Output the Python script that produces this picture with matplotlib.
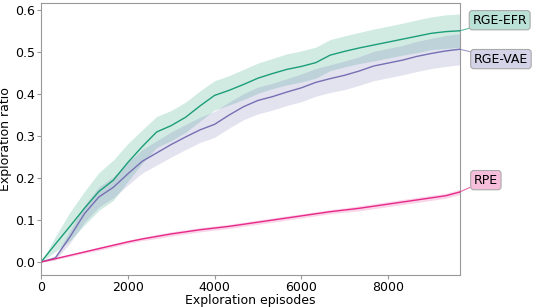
import matplotlib
matplotlib.use('Agg')

import matplotlib.pyplot as plt
import numpy as np
from matplotlib.colors import to_rgba

# exploration episodes
episodes = [0, 333, 667, 1000, 1333, 1667, 2000, 2333, 2667, 3000,
            3333, 3667, 4000, 4333, 4667, 5000, 5333, 5667, 6000, 6333,
            6667, 7000, 7333, 7667, 8000, 8333, 8667, 9000, 9333, 9657]

# RGE-EFR
efr_mean = [0, 0.043, 0.085, 0.128, 0.168, 0.195, 0.237, 0.275, 0.310, 0.325,
            0.345, 0.372, 0.397, 0.409, 0.423, 0.438, 0.449, 0.459, 0.466, 0.475,
            0.493, 0.502, 0.510, 0.517, 0.524, 0.531, 0.538, 0.545, 0.549, 0.551]
efr_sd = [0, 0.018, 0.034, 0.040, 0.045, 0.048, 0.045, 0.040, 0.037, 0.036,
          0.036, 0.036, 0.035, 0.035, 0.036, 0.036, 0.036, 0.037, 0.037, 0.037,
          0.037, 0.037, 0.037, 0.038, 0.038, 0.038, 0.039, 0.039, 0.040, 0.040]

# RGE-VAE
vae_mean = [0, 0.010, 0.060, 0.115, 0.155, 0.178, 0.210, 0.240, 0.260, 0.280,
            0.298, 0.315, 0.328, 0.350, 0.370, 0.385, 0.394, 0.405, 0.415, 0.428,
            0.437, 0.445, 0.455, 0.467, 0.474, 0.481, 0.490, 0.497, 0.503, 0.507]
vae_sd = [0, 0.005, 0.015, 0.020, 0.024, 0.025, 0.027, 0.028, 0.029, 0.030,
          0.030, 0.030, 0.031, 0.031, 0.031, 0.032, 0.032, 0.032, 0.033, 0.033,
          0.033, 0.034, 0.034, 0.035, 0.035, 0.035, 0.036, 0.036, 0.037, 0.037]

# RPE
rpe_mean = [0, 0.008, 0.016, 0.024, 0.032, 0.040, 0.048, 0.055, 0.061, 0.067,
            0.072, 0.077, 0.081, 0.085, 0.090, 0.095, 0.100, 0.105, 0.110, 0.115,
            0.120, 0.124, 0.128, 0.133, 0.138, 0.143, 0.148, 0.153, 0.158, 0.167]
rpe_sd = [0, 0.002, 0.003, 0.003, 0.004, 0.004, 0.004, 0.004, 0.005, 0.005,
          0.005, 0.005, 0.005, 0.005, 0.005, 0.005, 0.005, 0.005, 0.005, 0.005,
          0.005, 0.005, 0.006, 0.006, 0.006, 0.006, 0.006, 0.006, 0.006, 0.006]

names = ['RGE-EFR', 'RGE-VAE', 'RPE']
colors = ['#1b9e77', '#7570b3', '#e7298a']
label_pos = [(1.095, 0.937), (1.098, 0.794), (1.062, 0.349)]

fig = plt.figure(figsize=(5.36, 3.07), dpi=100)
ax = fig.add_axes([0.0765, 0.104, 0.7815, 0.886])

x = np.array(episodes)
series = [(efr_mean, efr_sd), (vae_mean, vae_sd), (rpe_mean, rpe_sd)]
for (m, s), name, c, pos in zip(series, names, colors, label_pos):
    m = np.array(m)
    s = np.array(s)
    ax.fill_between(x, m - s, m + s, color=c, alpha=0.2, linewidth=0)
    ax.plot(x, m, color=c, linewidth=1.0)
    ax.annotate(name, xy=(x[-1], m[-1]), xytext=pos, textcoords='axes fraction',
                ha='center', va='center', fontsize=9, annotation_clip=False,
                bbox=dict(boxstyle='round,pad=0.25', fc=to_rgba(c, 0.3), ec='#aaaaaa', lw=0.8),
                arrowprops=dict(arrowstyle='-', color=c, lw=0.8, alpha=0.7,
                                shrinkA=0, shrinkB=0))

ax.set_xlim(0, 9657)
ax.set_ylim(-0.031, 0.617)
ax.set_xticks([0, 2000, 4000, 6000, 8000])
ax.set_yticks([0.0, 0.1, 0.2, 0.3, 0.4, 0.5, 0.6])
ax.set_xlabel('Exploration episodes', fontsize=9, labelpad=0)
ax.set_ylabel('Exploration ratio', fontsize=9, labelpad=2)
ax.tick_params(labelsize=9, length=3, color='#999999', pad=1.5)
for sp in ax.spines.values():
    sp.set_color('#999999')

plt.savefig('out.png', dpi=100)
